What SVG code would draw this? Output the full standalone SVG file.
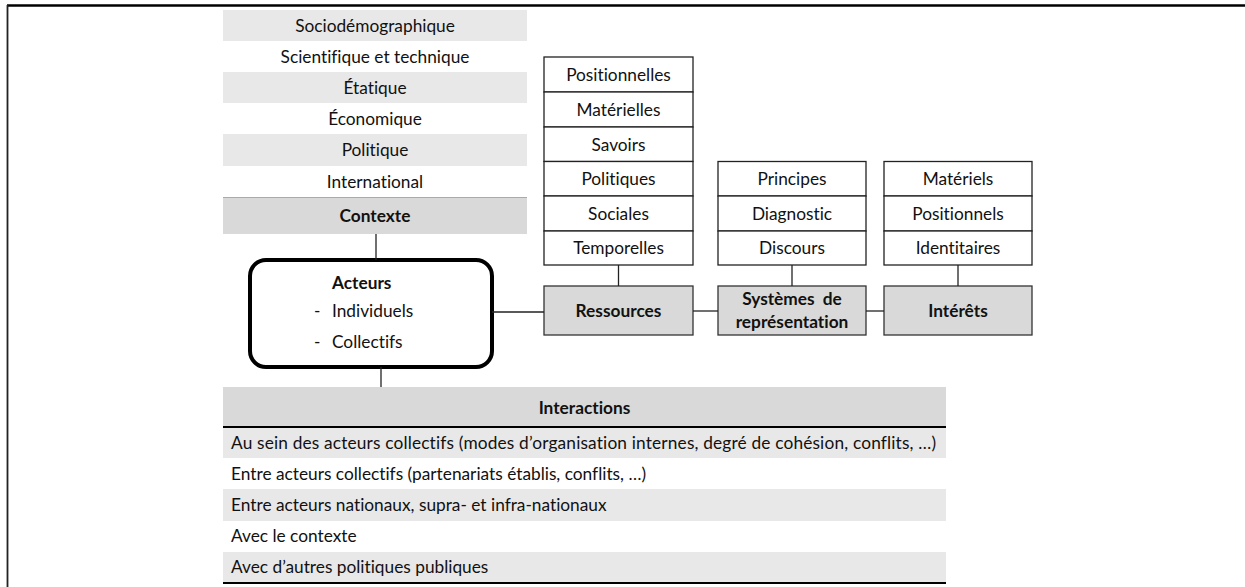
<svg xmlns="http://www.w3.org/2000/svg" width="1245" height="587" viewBox="0 0 1245 587">
<style>
text{font-family:Lato,"Open Sans","Liberation Sans",sans-serif;font-size:17.3px;fill:#111;font-variant-ligatures:none}
.c{text-anchor:middle}
.b{font-weight:bold}
.g1{fill:#e8e8e8}
.g2{fill:#d9d9d9}
.cell{fill:#fff;stroke:#222;stroke-width:1.3}
.hbox{fill:#d9d9d9;stroke:#333;stroke-width:1.3}
.ln{stroke:#222;stroke-width:1.3;fill:none}
</style>
<rect width="1245" height="587" fill="#fff"/>
<g id="frame">
<line x1="7" y1="5.5" x2="1245" y2="5.5" stroke="#000" stroke-width="2.5"/>
<line x1="7.5" y1="5" x2="7.5" y2="587" stroke="#222" stroke-width="1.8"/>
</g>
<g id="contexte">
<rect class="g1" x="223" y="10" width="304" height="31"/>
<rect class="g1" x="223" y="72" width="304" height="31"/>
<rect class="g1" x="223" y="134" width="304" height="32"/>
<rect class="g2" x="223" y="197" width="304" height="37"/>
<line x1="223" y1="197.5" x2="527" y2="197.5" stroke="#aaa" stroke-width="1"/>
<text class="c" x="375" y="31.5">Sociodémographique</text>
<text class="c" x="375" y="62.5">Scientifique et technique</text>
<text class="c" x="375" y="93.5">Étatique</text>
<text class="c" x="375" y="124.5">Économique</text>
<text class="c" x="375" y="156">Politique</text>
<text class="c" x="375" y="187.5">International</text>
<text class="c b" x="375" y="222">Contexte</text>
</g>
<g id="acteurs">
<rect x="250" y="260" width="242" height="107" rx="16" fill="#fff" stroke="#000" stroke-width="4"/>
<text class="b" x="332" y="289">Acteurs</text>
<text x="314" y="317">-</text>
<text x="332" y="317">Individuels</text>
<text x="314" y="348">-</text>
<text x="332" y="348">Collectifs</text>
</g>
<g id="ressources-items">
<rect class="cell" x="544" y="57" width="149" height="35"/>
<rect class="cell" x="544" y="92" width="149" height="35"/>
<rect class="cell" x="544" y="127" width="149" height="34.5"/>
<rect class="cell" x="544" y="161.5" width="149" height="34.5"/>
<rect class="cell" x="544" y="196" width="149" height="35"/>
<rect class="cell" x="544" y="231" width="149" height="34"/>
<text class="c" x="618.5" y="80.5">Positionnelles</text>
<text class="c" x="618.5" y="115.5">Matérielles</text>
<text class="c" x="618.5" y="150.5">Savoirs</text>
<text class="c" x="618.5" y="185">Politiques</text>
<text class="c" x="618.5" y="219.5">Sociales</text>
<text class="c" x="618.5" y="254">Temporelles</text>
</g>
<g id="representation-items">
<rect class="cell" x="718" y="161.5" width="148" height="34.5"/>
<rect class="cell" x="718" y="196" width="148" height="35"/>
<rect class="cell" x="718" y="231" width="148" height="34"/>
<text class="c" x="792" y="185">Principes</text>
<text class="c" x="792" y="219.5">Diagnostic</text>
<text class="c" x="792" y="254">Discours</text>
</g>
<g id="interets-items">
<rect class="cell" x="884" y="161.5" width="148" height="34.5"/>
<rect class="cell" x="884" y="196" width="148" height="35"/>
<rect class="cell" x="884" y="231" width="148" height="34"/>
<text class="c" x="958" y="185">Matériels</text>
<text class="c" x="958" y="219.5">Positionnels</text>
<text class="c" x="958" y="254">Identitaires</text>
</g>
<g id="ressources">
<rect class="hbox" x="544" y="286" width="149" height="49"/>
<text class="c b" x="618.5" y="316.5">Ressources</text>
</g>
<g id="systemes">
<rect class="hbox" x="718" y="286" width="148" height="49"/>
<text class="c b" x="792" y="305" word-spacing="4">Systèmes de</text>
<text class="c b" x="792" y="328">représentation</text>
</g>
<g id="interets">
<rect class="hbox" x="884" y="286" width="148" height="49"/>
<text class="c b" x="958" y="316.5">Intérêts</text>
</g>
<g id="interactions">
<rect class="g2" x="223" y="387" width="723" height="39"/>
<rect class="g1" x="223" y="428" width="723" height="30"/>
<rect class="g1" x="223" y="489" width="723" height="32"/>
<rect class="g1" x="223" y="552" width="723" height="30"/>
<line x1="223" y1="427" x2="946" y2="427" stroke="#000" stroke-width="2"/>
<line x1="223" y1="583" x2="946" y2="583" stroke="#000" stroke-width="2"/>
<text class="c b" x="584.5" y="414">Interactions</text>
<text x="231" y="449" textLength="705" lengthAdjust="spacing">Au sein des acteurs collectifs (modes d’organisation internes, degré de cohésion, conflits, …)</text>
<text x="231" y="479.5">Entre acteurs collectifs (partenariats établis, conflits, …)</text>
<text x="231" y="510.5">Entre acteurs nationaux, supra- et infra-nationaux</text>
<text x="231" y="542">Avec le contexte</text>
<text x="231" y="572.5">Avec d’autres politiques publiques</text>
</g>
<g id="connectors">
<line class="ln" x1="376" y1="234" x2="376" y2="260"/>
<line class="ln" x1="381" y1="367" x2="381" y2="387"/>
<line class="ln" x1="492" y1="312" x2="544" y2="312"/>
<line class="ln" x1="693" y1="311" x2="718" y2="311"/>
<line class="ln" x1="866" y1="311" x2="884" y2="311"/>
<line class="ln" x1="618.5" y1="265" x2="618.5" y2="286"/>
<line class="ln" x1="792" y1="265" x2="792" y2="286"/>
<line class="ln" x1="958" y1="265" x2="958" y2="286"/>
</g>
</svg>
